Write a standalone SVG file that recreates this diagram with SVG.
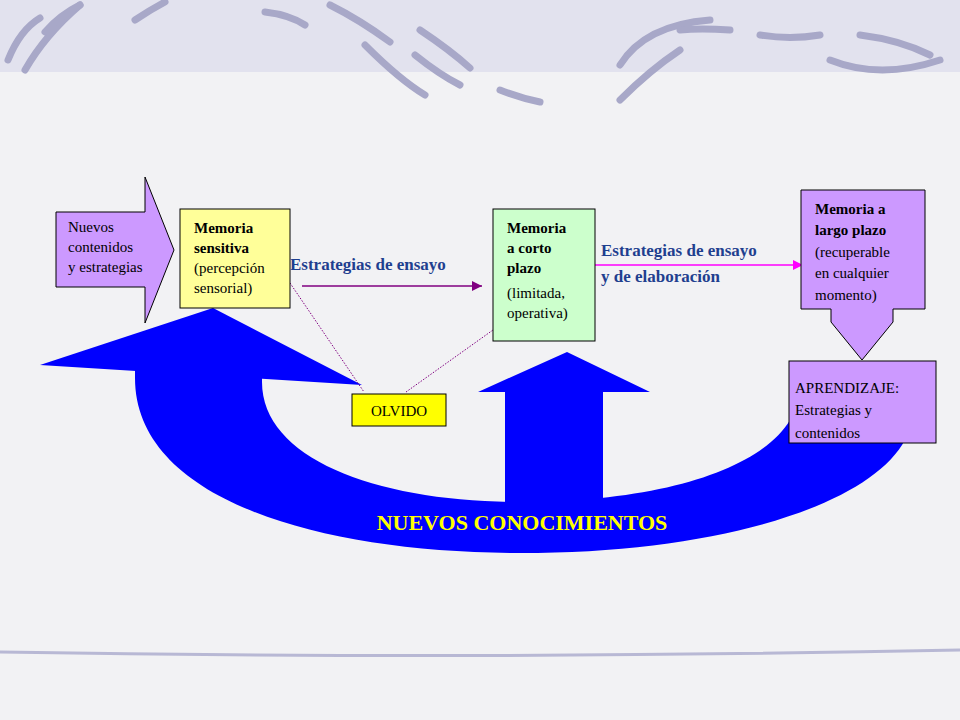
<svg xmlns="http://www.w3.org/2000/svg" width="960" height="720" viewBox="0 0 960 720">
<defs>
<style>
.t{font-family:"Liberation Serif","Times New Roman","DejaVu Serif",serif;font-size:15px;fill:#000}
.b{font-weight:bold}
.lbl{font-family:"Liberation Serif","Times New Roman","DejaVu Serif",serif;font-size:17px;font-weight:bold;fill:#1f3f8f}
.big{font-family:"Liberation Serif","Times New Roman","DejaVu Serif",serif;font-size:22px;font-weight:bold;fill:#ffff00}
.box{stroke:#000;stroke-width:1}
.sw{fill:none;stroke:#a8a8c8;stroke-width:7;stroke-linecap:round}
</style>
<marker id="ap" viewBox="0 0 10 10" refX="10" refY="5" markerWidth="10" markerHeight="10" markerUnits="userSpaceOnUse" orient="auto"><path d="M0,0L10,5L0,10Z" fill="#800080"/></marker>
<marker id="am" viewBox="0 0 10 10" refX="10" refY="5" markerWidth="10" markerHeight="10" markerUnits="userSpaceOnUse" orient="auto"><path d="M0,0L10,5L0,10Z" fill="#ff00ff"/></marker>
</defs>
<rect width="960" height="720" fill="#f2f2f4"/>
<rect width="960" height="72" fill="#e2e2ee"/>
<g id="decor">
<path class="sw" d="M8,60 Q20,30 40,18"/><path class="sw" d="M25,70 Q45,35 80,5"/><path class="sw" d="M45,32 Q60,15 80,5"/>
<path class="sw" d="M135,20 Q150,10 165,2"/>
<path class="sw" d="M265,12 Q290,15 305,25"/><path class="sw" d="M330,5 Q360,20 390,42"/><path class="sw" d="M365,45 Q400,80 425,95"/>
<path class="sw" d="M420,30 Q450,50 470,68"/><path class="sw" d="M415,55 Q440,75 460,85"/><path class="sw" d="M500,90 Q520,98 540,102"/>
<path class="sw" d="M620,65 Q645,25 710,20"/><path class="sw" d="M680,30 Q700,28 730,30"/><path class="sw" d="M760,35 Q790,40 820,35"/>
<path class="sw" d="M860,35 Q900,40 930,55"/><path class="sw" d="M830,60 Q880,80 940,60"/><path class="sw" d="M620,100 Q650,70 680,50"/>
<path d="M0,652 Q480,660 960,650" fill="none" stroke="#b8b8d4" stroke-width="3"/>
</g>
<g id="blue-arrow" fill="#0000ff">
<path d="M135,365 L135,378 C135,500 320,553 520,553 C720,553 870,505 905,440 L790,420 C760,470 660,502 520,502 C380,502 262,460 262,382 L262,365 Z"/>
<path d="M40,365 L213,308 L362,385 Z"/>
<path d="M478,392 L567,352 L650,392 L603,392 L603,505 L505,505 L505,392 Z"/>
<text class="big" x="522" y="530" text-anchor="middle">NUEVOS CONOCIMIENTOS</text>
</g>
<g id="connectors">
<line x1="302" y1="286" x2="482" y2="286" stroke="#800080" stroke-width="1.3" marker-end="url(#ap)"/>
<line x1="595" y1="265" x2="803" y2="265" stroke="#ff00ff" stroke-width="1.3" marker-end="url(#am)"/>
<line x1="290" y1="283" x2="364" y2="392" stroke="#800080" stroke-width="1" stroke-dasharray="1.5,1.5"/>
<line x1="406" y1="392" x2="493" y2="330" stroke="#800080" stroke-width="1" stroke-dasharray="1.5,1.5"/>
</g>
<g id="nuevos">
<path class="box" d="M56,212 L145,212 L145,177 L174,250 L145,323 L145,287 L56,287 Z" fill="#cc99ff"/>
<text class="t"><tspan x="68" y="232">Nuevos</tspan><tspan x="68" y="252">contenidos</tspan><tspan x="68" y="272">y estrategias</tspan></text>
</g>
<g id="sensitiva">
<rect class="box" x="180" y="209" width="110" height="99" fill="#ffff99"/>
<text class="t"><tspan class="b" x="194" y="233">Memoria</tspan><tspan class="b" x="194" y="253">sensitiva</tspan><tspan x="194" y="273">(percepción</tspan><tspan x="194" y="293">sensorial)</tspan></text>
</g>
<text class="lbl" x="290" y="270">Estrategias de ensayo</text>
<g id="corto">
<rect class="box" x="493" y="209" width="102" height="132" fill="#ccffcc"/>
<text class="t"><tspan class="b" x="507" y="233">Memoria</tspan><tspan class="b" x="507" y="253">a corto</tspan><tspan class="b" x="507" y="273">plazo</tspan><tspan x="507" y="298">(limitada,</tspan><tspan x="507" y="318">operativa)</tspan></text>
</g>
<text class="lbl"><tspan x="601" y="256">Estrategias de ensayo</tspan><tspan x="601" y="282">y de elaboración</tspan></text>
<g id="largo">
<path class="box" d="M801,190 L925,190 L925,309 L893,309 L893,322 L862,360 L831,322 L831,309 L801,309 Z" fill="#cc99ff"/>
<text class="t"><tspan class="b" x="815" y="214">Memoria a</tspan><tspan class="b" x="815" y="235">largo plazo</tspan><tspan x="815" y="257">(recuperable</tspan><tspan x="815" y="278">en cualquier</tspan><tspan x="815" y="300">momento)</tspan></text>
</g>
<g id="aprendizaje">
<rect class="box" x="789" y="361" width="147" height="82" fill="#cc99ff"/>
<text class="t"><tspan x="795" y="393">APRENDIZAJE:</tspan><tspan x="795" y="415">Estrategias y</tspan><tspan x="795" y="438">contenidos</tspan></text>
</g>
<g id="olvido">
<rect class="box" x="352" y="394" width="94" height="32" fill="#ffff00"/>
<text class="t" x="399" y="416" text-anchor="middle">OLVIDO</text>
</g>
</svg>
